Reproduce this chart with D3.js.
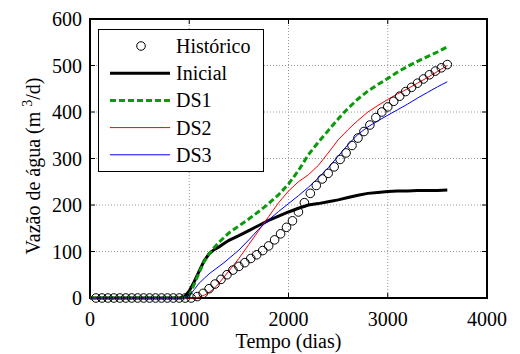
<!DOCTYPE html>
<html>
<head>
<meta charset="utf-8">
<script src="https://cdn.jsdelivr.net/npm/d3@7"></script>
</head>
<body style="margin:0">
<script>
// historico (markers every ~60 days)
const histDays = [60,120,180,240,300,360,420,480,540,600,660,720,780,840,900,960,1020,1080,1140,1200,
  1260,1320,1380,1440,1500,1560,1620,1680,1740,1800,1860,1920,1980,2040,2100,2160,2220,2280,2340,2400,
  2460,2520,2580,2640,2700,2760,2820,2880,2940,3000,3060,3120,3180,3240,3300,3360,3420,3480,3540,3600];
const histVals = [0,0,0,0,0,0,0,0,0,0,0,0,0,0,0,0,0,3,10,20,
  30,40,50,60,68,76,85,93,102,112,125,138,152,166,185,205,225,242,256,268,
  282,298,312,328,344,358,372,388,400,411,423,434,444,453,462,471,480,488,495,502];

// simulated curves
const simDays = [0,900,950,1000,1050,1100,1150,1200,1250,1300,1350,1400,1500,1600,1700,1800,1900,2000,
  2100,2200,2300,2400,2500,2600,2700,2800,2900,3000,3100,3200,3300,3400,3500,3600];
const inicial = [0,0,2,15,35,58,80,95,104,110,117,124,134,145,156,167,176,185,
  193,200,203,207,211,216,221,225,227,229,230,230,231,231,231,232];
const ds1 = [0,0,0,5,30,55,78,95,108,120,130,140,155,170,186,203,222,245,
  274,308,335,360,385,408,428,445,459,472,486,498,509,519,529,540];
const ds2 = [0,0,0,0,0,2,6,12,20,32,45,58,85,115,145,175,205,230,
  250,265,285,312,340,362,382,400,414,427,439,450,462,474,487,500];
const ds3 = [0,0,0,5,18,32,42,52,60,68,76,85,103,125,148,168,186,203,
  220,238,258,280,305,330,352,368,381,393,405,417,430,442,454,465];

const xTicks = [0,1000,2000,3000,4000];
const yTicks = [0,100,200,300,400,500,600];

const FONT = "Liberation Serif";
const fs = 20;

const margin = { top: 19, right: 33, bottom: 56, left: 90 };
const width = 520 - margin.left - margin.right;
const height = 354 - margin.top - margin.bottom;

const x = d3.scaleLinear().domain([0, 4000]).range([0, width]);
const y = d3.scaleLinear().domain([0, 600]).range([height, 0]);

const svgRoot = d3.select("body").append("svg")
  .attr("width", 520).attr("height", 354);
const svg = svgRoot.append("g")
  .attr("transform", "translate(" + margin.left + "," + margin.top + ")");

// grid
svg.append("g").selectAll("line").data(xTicks.slice(1, -1)).enter().append("line")
  .attr("x1", d => x(d)).attr("x2", d => x(d)).attr("y1", 0).attr("y2", height)
  .attr("stroke", "#999").attr("stroke-width", 1).attr("stroke-dasharray", "1,2");
svg.append("g").selectAll("line").data(yTicks.slice(1, -1)).enter().append("line")
  .attr("y1", d => y(d)).attr("y2", d => y(d)).attr("x1", 0).attr("x2", width)
  .attr("stroke", "#999").attr("stroke-width", 1).attr("stroke-dasharray", "1,2");

// tick marks inside on all four sides (matlab style)
const tk = 5;
svg.append("g").selectAll("line").data(xTicks).enter().append("line")
  .attr("x1", d => x(d)).attr("x2", d => x(d)).attr("y1", height).attr("y2", height - tk).attr("stroke", "#000");
svg.append("g").selectAll("line").data(xTicks).enter().append("line")
  .attr("x1", d => x(d)).attr("x2", d => x(d)).attr("y1", 0).attr("y2", tk).attr("stroke", "#000");
svg.append("g").selectAll("line").data(yTicks).enter().append("line")
  .attr("y1", d => y(d)).attr("y2", d => y(d)).attr("x1", 0).attr("x2", tk).attr("stroke", "#000");
svg.append("g").selectAll("line").data(yTicks).enter().append("line")
  .attr("y1", d => y(d)).attr("y2", d => y(d)).attr("x1", width).attr("x2", width - tk).attr("stroke", "#000");

// tick labels
svg.append("g").selectAll("text").data(xTicks).enter().append("text")
  .attr("x", d => x(d)).attr("y", height + 28).attr("text-anchor", "middle")
  .attr("font-family", FONT).attr("font-size", fs).text(d => d);
svg.append("g").selectAll("text").data(yTicks).enter().append("text")
  .attr("x", -8).attr("y", d => y(d)).attr("dy", "0.35em").attr("text-anchor", "end")
  .attr("font-family", FONT).attr("font-size", fs).text(d => d);

svg.append("rect").attr("x", 0).attr("y", 0).attr("width", width).attr("height", height)
  .attr("fill", "none").attr("stroke", "#000").attr("stroke-width", 2);

// lines
const line = d3.line().x((d, i) => x(simDays[i])).y(d => y(d));
const series = [
  { name: "Inicial", vals: inicial, color: "#000", w: 3, dash: null },
  { name: "DS1", vals: ds1, color: "#0a9a0a", w: 3, dash: "6,3" },
  { name: "DS2", vals: ds2, color: "#ff0000", w: 1, dash: null },
  { name: "DS3", vals: ds3, color: "#0000ff", w: 1, dash: null }
];
series.forEach(s => {
  svg.append("path").datum(s.vals).attr("d", line)
    .attr("fill", "none").attr("stroke", s.color).attr("stroke-width", s.w)
    .attr("stroke-dasharray", s.dash);
});

// historico markers
svg.append("g").selectAll("circle").data(histVals).enter().append("circle")
  .attr("cx", (d, i) => x(histDays[i])).attr("cy", d => y(d)).attr("r", 4.3)
  .attr("fill", "none").attr("stroke", "#000").attr("stroke-width", 1);

// legend
const lg = svgRoot.append("g");
lg.append("rect").attr("x", 98.5).attr("y", 29.5).attr("width", 165).attr("height", 142)
  .attr("fill", "#fff").attr("stroke", "#000").attr("stroke-width", 1);
const legendRows = [{ name: "Histórico", marker: true }].concat(series);
legendRows.forEach((s, i) => {
  const ly = 46 + i * 27.2;
  if (s.marker) {
    lg.append("circle").attr("cx", 141).attr("cy", ly).attr("r", 4.3)
      .attr("fill", "none").attr("stroke", "#000");
  } else {
    lg.append("line").attr("x1", 110).attr("x2", 170).attr("y1", ly).attr("y2", ly)
      .attr("stroke", s.color).attr("stroke-width", s.w).attr("stroke-dasharray", s.dash);
  }
  lg.append("text").attr("x", 176).attr("y", ly).attr("dy", "0.35em")
    .attr("font-family", FONT).attr("font-size", fs).text(s.name);
});

// axis titles
svgRoot.append("text").attr("x", margin.left + width / 2).attr("y", 348)
  .attr("text-anchor", "middle").attr("font-family", FONT).attr("font-size", fs)
  .text("Tempo (dias)");
const yl = svgRoot.append("text").attr("transform", "translate(40,166) rotate(-90)")
  .attr("text-anchor", "middle").attr("font-family", FONT).attr("font-size", fs);
yl.append("tspan").text("Vazão de água (m ");
yl.append("tspan").attr("dy", -8).attr("font-size", 14).text("3");
yl.append("tspan").attr("dy", 8).text("/d)");
</script>
</body>
</html>
